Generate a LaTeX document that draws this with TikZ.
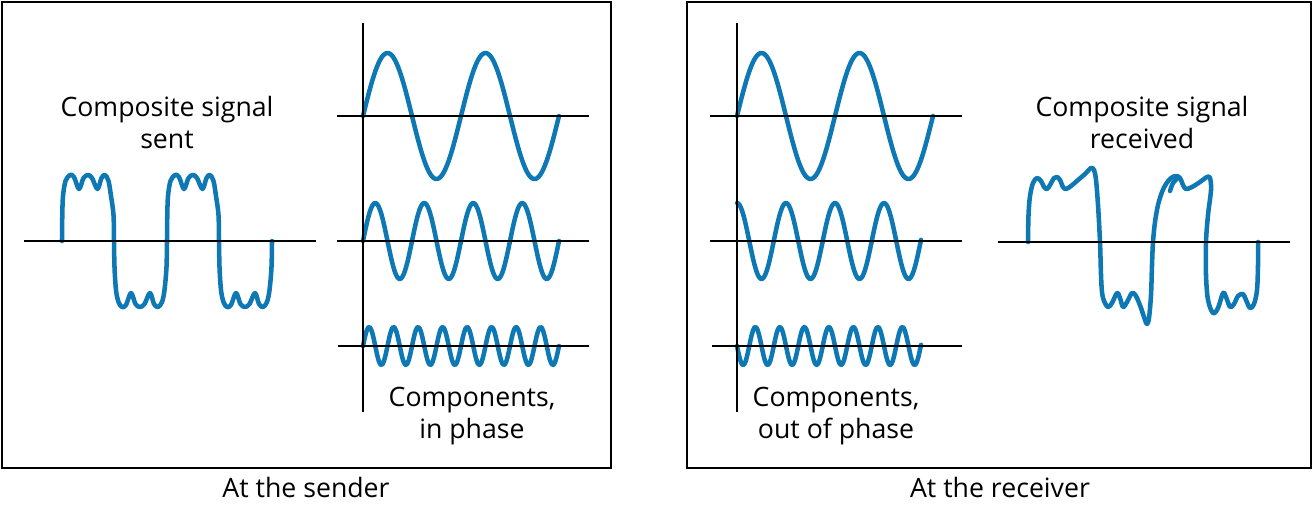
\documentclass[tikz,border=0pt]{standalone}
\usepackage{fontspec}
\setmainfont{Open Sans}
\usepackage{tikz}
\usetikzlibrary{positioning}
\definecolor{waveBlue}{HTML}{0E78B4}

\begin{document}
\begin{tikzpicture}[x=0.75pt,y=-0.75pt,font=\fontsize{20}{24}\selectfont,
      wave/.style={waveBlue,line width=3.4pt,line cap=round,line join=round},
      axis/.style={line width=1.5pt},
      baseaxis/.style={line width=1.1pt},
      panel/.style={draw,line width=1.6pt},
      lbl/.style={align=center,inner sep=0pt}]
    \useasboundingbox (0,0) rectangle (1313,507);
    \draw[panel] (2,2) rectangle (611,468);
    \draw[panel] (687,2) rectangle (1311,468);
    % sender: composite
    \foreach \p in {0,1}{
      \draw[wave,shift={(105*\p,0)}] plot[smooth,tension=0.55] coordinates {
        (62,241) (62.3,215) (63,196) (65.5,181) (70,175) (74,177) (79,189)
        (83.5,178) (88,175) (92,178) (97.5,189) (101.5,178) (105,175)
        (108.5,181) (111,196) (113.5,215) (114,241) (114.5,267) (116,290)
        (118.5,302) (122,307) (126,305) (131,293) (135.5,304) (140,307)
        (144.5,304) (150,293) (154,304) (158,307) (162,302) (164.5,290)
        (166.5,267) (167,241)};
    }
    \draw[baseaxis] (24,241) -- (316,241);
    \node[lbl] (sent) at (167,122) {Composite signal\\sent};
    % sender: components
    \foreach \c/\a/\f in {116/63/1,241/38/2,346/19/4}
      \draw[wave] plot[domain=0:196,samples=150] ({363+\x},{\c-\a*sin(\f*\x/98*360)});
    \draw[axis] (363,23) -- (363,412);
    \foreach \c/\l in {116/337,241/337,346/338}
      \draw[axis] (\l,\c) -- (589,\c);
    \node[lbl] (inphase) at (472,416) {Components,\\in phase};
    \node[anchor=base] (sender) at (306,497) {At the sender};
    % receiver: components
    \foreach \c/\a/\f/\ph/\len in {116/63/1/0/196,241/38/2/90/184,346/19/4/180/184}
      \draw[wave] plot[domain=0:\len,samples=150] ({737+\x},{\c-\a*sin(\f*\x/98*360+\ph)});
    \draw[axis] (737,23) -- (737,412);
    \foreach \c/\l in {116/710,241/710,346/712}
      \draw[axis] (\l,\c) -- (962,\c);
    \node[lbl] (outphase) at (836,416) {Components,\\out of phase};
    % receiver: composite
    \draw[wave] plot[smooth,tension=0.55] coordinates {
      (1028,242) (1028.5,215) (1030,196) (1033,183) (1037,178) (1041,181)
      (1044,187) (1047,189) (1050,185) (1054,178) (1057,177) (1060,180)
      (1063,187) (1066,189) (1071,186) (1078,180) (1085,174) (1091,168)
      (1094,170) (1096,180) (1098,205) (1100,242) (1101,275) (1102,292)
      (1104,301) (1108,307) (1112,303) (1117,293) (1120,298) (1123,307)
      (1127,302) (1132,293) (1136,296) (1141,308) (1145,320) (1147,324)
      (1149,318) (1151,295) (1152,265) (1153,242) (1155,222) (1158,205)
      (1162,192) (1166,184) (1171,178) (1176,176) (1180,178) (1183,185)
      (1186,189) (1192,187) (1200,182) (1207,177) (1210,178) (1211,190)
      (1208,215) (1206,242) (1206,275) (1208,300) (1213,313) (1218,308)
      (1223,293) (1226,297) (1230,307) (1234,304) (1238,296) (1243,294)
      (1246,300) (1250,308) (1254,304) (1257,290) (1258,265) (1258,242)};
    \draw[wave] plot[smooth] coordinates {(1170,191) (1173,183) (1178,178)};
    \draw[baseaxis] (998,242) -- (1290,242);
    \node[lbl] (received) at (1142,122) {Composite signal\\received};
    \node[anchor=base] (receiver) at (1000,497) {At the receiver};
\end{tikzpicture}
\end{document}
